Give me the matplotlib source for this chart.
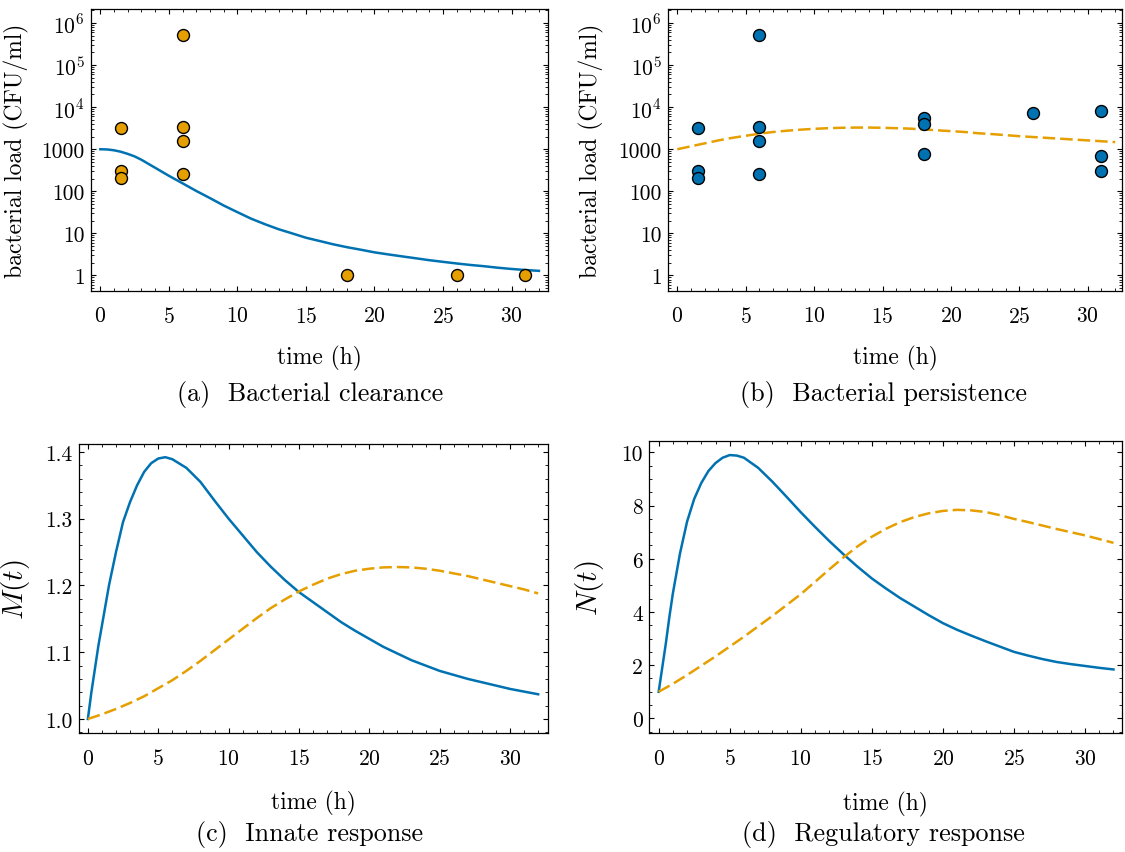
import numpy as np
import matplotlib as mpl
mpl.use("Agg")
import matplotlib.pyplot as plt
from matplotlib.ticker import MultipleLocator, LogLocator, FuncFormatter, NullFormatter

BLUE = "#0072B2"
ORANGE = "#E69F00"

# ---------- data ----------
# bacterial load measurements (CFU/ml)
clear_t = [1.5, 1.5, 1.5, 6, 6, 6, 6, 18, 26, 31]
clear_load = [3200, 305, 205, 5.3e5, 3450, 1600, 260, 1, 1, 1]

persist_t = [1.5, 1.5, 1.5, 6, 6, 6, 6, 18, 18, 18, 26, 31, 31, 31]
persist_load = [3200, 305, 205, 5.3e5, 3450, 1600, 260, 5550, 4050, 760, 7400, 7950, 700, 300]

# model curves
t_clear_fit = [0, 0.5, 1, 1.5, 2, 2.5, 3, 4, 5, 6, 7, 8, 9, 10, 11, 12, 13, 14, 15,
               16, 17, 18, 19, 20, 21, 22, 23, 24, 25, 26, 27, 28, 29, 30, 31, 32]
clear_fit = [1000, 989, 944, 871, 776, 676, 562, 363, 234, 155, 102, 69, 46, 32,
             22.4, 16.6, 12.6, 10.0, 7.9, 6.6, 5.5, 4.7, 4.1, 3.55, 3.17, 2.85,
             2.57, 2.31, 2.11, 1.93, 1.78, 1.66, 1.53, 1.43, 1.35, 1.29]

t_hours = list(range(0, 33))
persist_fit = [1000, 1175, 1380, 1622, 1862, 2089, 2344, 2570, 2754, 2917, 3055,
               3162, 3236, 3273, 3273, 3236, 3162, 3090, 2951, 2818, 2692, 2570,
               2399, 2291, 2163, 2042, 1950, 1862, 1778, 1698, 1622, 1549, 1479]

t_fine = [0, 0.25, 0.5, 0.75, 1, 1.5, 2, 2.5, 3, 3.5, 4, 4.5, 5, 5.5, 6, 7, 8, 9, 10,
          11, 12, 13, 14, 15, 16, 17, 18, 19, 20, 21, 22, 23, 24, 25, 26, 27,
          28, 29, 30, 31, 32]
innate_clear = [1.000, 1.040, 1.075, 1.110, 1.140, 1.200, 1.250, 1.295, 1.325, 1.350,
                1.370, 1.383, 1.390, 1.392, 1.389, 1.376, 1.355, 1.327, 1.300,
                1.275, 1.250, 1.228, 1.208, 1.190, 1.175, 1.160, 1.145, 1.132,
                1.120, 1.108, 1.098, 1.088, 1.080, 1.072, 1.066, 1.060, 1.055,
                1.050, 1.045, 1.041, 1.037]
innate_persist = [1.000, 1.007, 1.015, 1.024, 1.034, 1.046, 1.058, 1.072, 1.087,
                  1.103, 1.119, 1.135, 1.151, 1.166, 1.179, 1.191, 1.201, 1.210,
                  1.217, 1.222, 1.225, 1.227, 1.2275, 1.227, 1.225, 1.222, 1.218,
                  1.214, 1.209, 1.204, 1.199, 1.194, 1.188]

reg_clear = [1.0, 1.9, 2.8, 3.8, 4.7, 6.2, 7.4, 8.25, 8.85, 9.3, 9.6, 9.8, 9.9, 9.88,
             9.8, 9.42, 8.9, 8.33, 7.75, 7.2, 6.67, 6.17, 5.7, 5.26, 4.88, 4.52,
             4.2, 3.88, 3.58, 3.33, 3.11, 2.9, 2.7, 2.5, 2.36, 2.23, 2.12, 2.04,
             1.97, 1.9, 1.84]
reg_persist = [1.0, 1.3, 1.63, 1.98, 2.33, 2.7, 3.07, 3.46, 3.85, 4.26, 4.67, 5.13,
               5.6, 6.05, 6.47, 6.83, 7.13, 7.38, 7.57, 7.71, 7.8, 7.84, 7.82,
               7.76, 7.64, 7.5, 7.38, 7.25, 7.12, 7.0, 6.88, 6.74, 6.6]

# ---------- style ----------
mpl.rcParams.update({
    "font.family": "cmr10",
    "mathtext.fontset": "cm",
    "axes.formatter.use_mathtext": True,
    "axes.unicode_minus": False,
    "font.size": 15.5,
    "axes.labelsize": 17,
    "xtick.labelsize": 15.5,
    "ytick.labelsize": 15.5,
    "axes.linewidth": 0.9,
    "xtick.direction": "in",
    "ytick.direction": "in",
    "xtick.top": True,
    "ytick.right": True,
    "xtick.major.size": 3.5,
    "ytick.major.size": 3.5,
    "xtick.minor.size": 2,
    "ytick.minor.size": 2,
    "xtick.major.width": 0.8,
    "ytick.major.width": 0.8,
    "xtick.minor.width": 0.6,
    "ytick.minor.width": 0.6,
    "xtick.minor.visible": True,
    "ytick.minor.visible": True,
    "xtick.major.pad": 11,
    "ytick.major.pad": 4.5,
})

fig = plt.figure(figsize=(11.25, 8.53), dpi=100)
W, H = 1125, 853


def add_axes(l, r, t, b):
    return fig.add_axes([l / W, 1 - b / H, (r - l) / W, (b - t) / H])


ax_a = add_axes(91, 548, 10, 291.5)
ax_b = add_axes(668, 1122, 10, 291.5)
ax_c = add_axes(79, 548, 444.5, 734)
ax_d = add_axes(649, 1122, 441.7, 734)


def log_fmt(v, pos):
    if v >= 1e4:
        return r"$10^{%d}$" % round(np.log10(v))
    return "%d" % round(v)


def style_log(ax):
    ax.set_yscale("log")
    ax.set_ylim(0.44, 2.15e6)
    ax.yaxis.set_major_locator(LogLocator(base=10, numticks=20))
    ax.yaxis.set_minor_locator(LogLocator(base=10, subs=np.arange(2, 10), numticks=100))
    ax.yaxis.set_major_formatter(FuncFormatter(log_fmt))
    ax.yaxis.set_minor_formatter(NullFormatter())
    ax.set_ylabel("bacterial load (CFU/ml)")


def style_x(ax, lo=-0.68, hi=32.66):
    ax.set_xlim(lo, hi)
    ax.xaxis.set_major_locator(MultipleLocator(5))
    ax.xaxis.set_minor_locator(MultipleLocator(1))
    ax.set_xlabel("time (h)")


marker_kw = dict(linestyle="none", marker="o", markersize=8.6, markeredgecolor="black",
                 markeredgewidth=1.0, zorder=3)

# (a) clearance
ax_a.plot(t_clear_fit, clear_fit, color=BLUE, lw=1.8, zorder=2)
ax_a.plot(clear_t, clear_load, markerfacecolor=ORANGE, **marker_kw)
style_log(ax_a)
style_x(ax_a)

# (b) persistence
ax_b.plot(t_hours, persist_fit, color=ORANGE, lw=1.8, dashes=(5, 2), zorder=2)
ax_b.plot(persist_t, persist_load, markerfacecolor=BLUE, **marker_kw)
style_log(ax_b)
style_x(ax_b, -0.68, 32.5)

# (c) innate
ax_c.plot(t_fine, innate_clear, color=BLUE, lw=1.8)
ax_c.plot(t_hours, innate_persist, color=ORANGE, lw=1.8, dashes=(5, 2))
ax_c.set_ylim(0.979, 1.4125)
ax_c.yaxis.set_major_locator(MultipleLocator(0.1))
ax_c.yaxis.set_minor_locator(MultipleLocator(0.02))
ax_c.yaxis.set_major_formatter(FuncFormatter(lambda v, p: "%.1f" % v))
ax_c.set_ylabel(r"$M(t)$", fontsize=21)
style_x(ax_c, -0.63, 32.7)

# (d) regulatory
ax_d.plot(t_fine, reg_clear, color=BLUE, lw=1.8)
ax_d.plot(t_hours, reg_persist, color=ORANGE, lw=1.8, dashes=(5, 2))
ax_d.set_ylim(-0.55, 10.44)
ax_d.yaxis.set_major_locator(MultipleLocator(2))
ax_d.yaxis.set_minor_locator(MultipleLocator(0.5))
ax_d.yaxis.set_major_formatter(FuncFormatter(lambda v, p: "%d" % round(v)))
ax_d.set_ylabel(r"$N(t)$", fontsize=21)
style_x(ax_d, -0.68, 32.6)

# label positions
ax_a.yaxis.set_label_coords(-0.136, 0.5)
ax_b.yaxis.set_label_coords(-0.14, 0.5)
ax_c.yaxis.set_label_coords(-0.10, 0.5)
ax_d.yaxis.set_label_coords(-0.091, 0.5)
for ax in (ax_a, ax_b):
    ax.xaxis.set_label_coords(0.5, -0.195)
for ax in (ax_c, ax_d):
    ax.xaxis.set_label_coords(0.5, -0.197)

# sub-captions
cap_kw = dict(ha="center", va="center", fontsize=18.8)
fig.text(310 / W, 1 - 395 / H, "(a)  Bacterial clearance", **cap_kw)
fig.text(883 / W, 1 - 395 / H, "(b)  Bacterial persistence", **cap_kw)
fig.text(310 / W, 1 - 835 / H, "(c)  Innate response", **cap_kw)
fig.text(883 / W, 1 - 835 / H, "(d)  Regulatory response", **cap_kw)

fig.savefig("out.png", dpi=100)
